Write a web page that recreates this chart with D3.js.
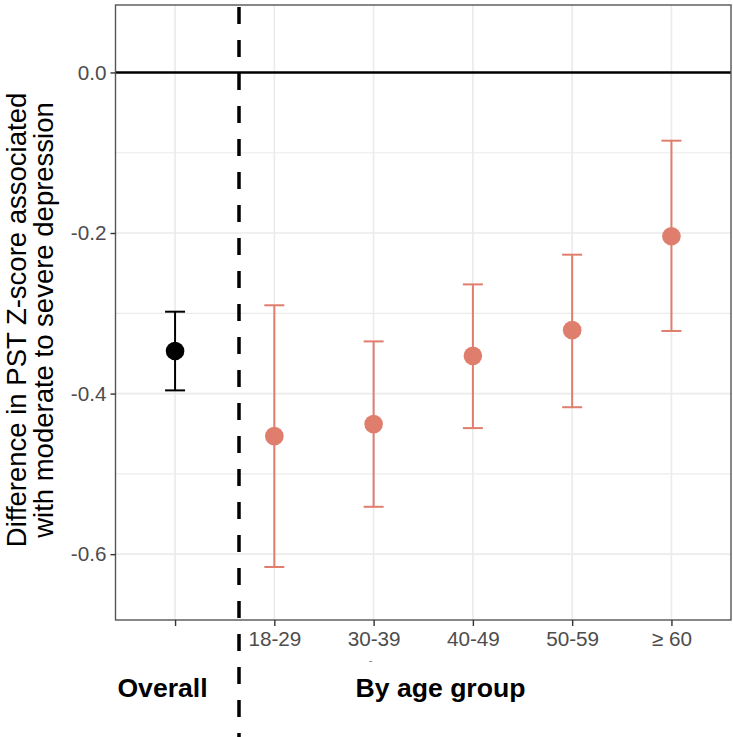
<!DOCTYPE html>
<html><head><meta charset="utf-8">
<script src="https://cdn.jsdelivr.net/npm/d3@7"></script>
<style>html,body{margin:0;padding:0;background:#fff;}svg{display:block;}</style>
</head><body>
<svg id="chart" width="733" height="737"></svg>
<script>
const categories = ["Overall", "18-29", "30-39", "40-49", "50-59", "≥ 60"];
const tickLabels = ["", "18-29", "30-39", "40-49", "50-59", "≥ 60"];
const groups = ["overall", "age", "age", "age", "age", "age"];
const estimate = [-0.347, -0.453, -0.438, -0.353, -0.321, -0.204];
const lower = [-0.396, -0.616, -0.541, -0.443, -0.417, -0.322];
const upper = [-0.298, -0.290, -0.335, -0.264, -0.227, -0.085];
const yTicks = [-0.6, -0.4, -0.2, 0.0];
const yMinor = [-0.5, -0.3, -0.1];
const yTitle = ["Difference in PST Z-score associated", "with moderate to severe depression"];
const sectionLabels = ["Overall", "By age group"];

const colors = {overall: "#000000", age: "#E07E6E"};
const font = "'Liberation Sans', Arial, Helvetica, sans-serif";

const svg = d3.select("#chart");
const L = 115.5, R = 731, T = 5, B = 620;

const x = d3.scalePoint().domain(categories).range([L, R]).padding(0.6);
const y = d3.scaleLinear().domain([-0.682, 0.084]).range([B, T]);

// grid
const grid = svg.append("g");
grid.selectAll(".minor").data(yMinor).join("line")
  .attr("x1", L).attr("x2", R).attr("y1", d => y(d)).attr("y2", d => y(d))
  .attr("stroke", "#ebebeb").attr("stroke-width", 1.2);
grid.selectAll(".major").data(yTicks).join("line")
  .attr("x1", L).attr("x2", R).attr("y1", d => y(d)).attr("y2", d => y(d))
  .attr("stroke", "#ebebeb").attr("stroke-width", 1.6);
grid.selectAll(".vmajor").data(categories).join("line")
  .attr("x1", d => x(d)).attr("x2", d => x(d)).attr("y1", T).attr("y2", B)
  .attr("stroke", "#ebebeb").attr("stroke-width", 1.6);

// zero line
svg.append("line").attr("x1", L).attr("x2", R).attr("y1", y(0)).attr("y2", y(0))
  .attr("stroke", "#000").attr("stroke-width", 2.6);

// error bars
const idx = d3.range(categories.length);
const eb = svg.append("g");
const capW = 10;
eb.selectAll(".v").data(idx).join("line")
  .attr("x1", i => x(categories[i])).attr("x2", i => x(categories[i]))
  .attr("y1", i => y(lower[i])).attr("y2", i => y(upper[i]))
  .attr("stroke", i => colors[groups[i]]).attr("stroke-width", 2);
eb.selectAll(".ct").data(idx).join("line")
  .attr("x1", i => x(categories[i]) - capW).attr("x2", i => x(categories[i]) + capW)
  .attr("y1", i => y(upper[i])).attr("y2", i => y(upper[i]))
  .attr("stroke", i => colors[groups[i]]).attr("stroke-width", 2);
eb.selectAll(".cb").data(idx).join("line")
  .attr("x1", i => x(categories[i]) - capW).attr("x2", i => x(categories[i]) + capW)
  .attr("y1", i => y(lower[i])).attr("y2", i => y(lower[i]))
  .attr("stroke", i => colors[groups[i]]).attr("stroke-width", 2);
svg.append("g").selectAll("circle").data(idx).join("circle")
  .attr("cx", i => x(categories[i])).attr("cy", i => y(estimate[i])).attr("r", 9.3)
  .attr("fill", i => colors[groups[i]]);

// panel border
svg.append("rect").attr("x", L).attr("y", T).attr("width", R - L).attr("height", B - T)
  .attr("fill", "none").attr("stroke", "#555").attr("stroke-width", 1.4);

// axes
const yAxis = svg.append("g").attr("transform", `translate(${L},0)`)
  .call(d3.axisLeft(y).tickValues(yTicks).tickFormat(d3.format(".1f")).tickSize(5).tickPadding(4));
const xAxis = svg.append("g").attr("transform", `translate(0,${B})`)
  .call(d3.axisBottom(x).tickFormat((d, i) => tickLabels[i]).tickSize(6).tickPadding(5));
[yAxis, xAxis].forEach(a => {
  a.select(".domain").remove();
  a.selectAll(".tick line").attr("stroke", "#333").attr("stroke-width", 1.4);
  a.selectAll(".tick text").attr("fill", "#4d4d4d").style("font-family", font).style("font-size", "20.7px");
});
yAxis.selectAll(".tick text").text(d => d3.format(".1f")(d).replace("−", "-"));

// stray mark under 30-39
svg.append("text").attr("x", x(categories[2]) - 3).attr("y", 664).attr("text-anchor", "middle")
  .attr("fill", "#777").style("font-family", font).style("font-size", "11px").text("-");

// y title
const yt = svg.append("text").attr("transform", `translate(0,320) rotate(-90)`)
  .attr("text-anchor", "middle").style("font-family", font).style("font-size", "27.5px").attr("fill", "#000");
yTitle.forEach((t, i) => yt.append("tspan").attr("x", 0).attr("y", 26 + i * 26.5).text(t));

// section labels
svg.append("text").attr("x", 162.5).attr("y", 697).attr("text-anchor", "middle")
  .style("font-family", font).style("font-size", "26.6px").style("font-weight", "bold").text(sectionLabels[0]);
svg.append("text").attr("x", 440.5).attr("y", 697).attr("text-anchor", "middle")
  .style("font-family", font).style("font-size", "26.6px").style("font-weight", "bold").text(sectionLabels[1]);

// dashed separator
svg.append("line").attr("x1", 239).attr("x2", 239).attr("y1", 0).attr("y2", 737)
  .attr("stroke", "#000").attr("stroke-width", 3.5)
  .attr("stroke-dasharray", "17,16").attr("stroke-dashoffset", 26);
</script>
</body></html>
